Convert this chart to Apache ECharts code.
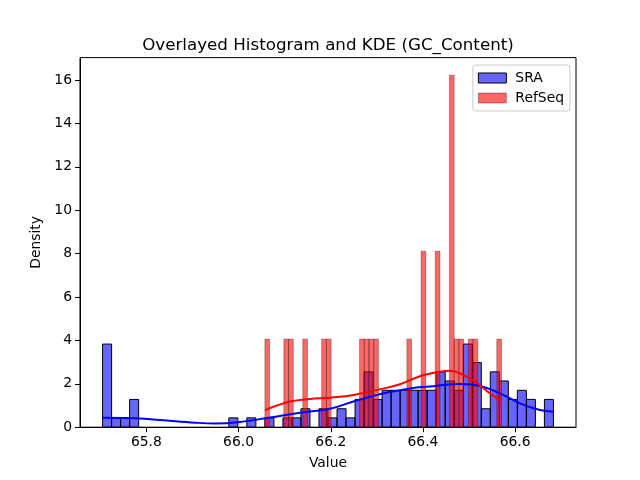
<!DOCTYPE html>
<html lang="en">
<head>
  <meta charset="utf-8" />
  <script src="https://cdn.jsdelivr.net/npm/echarts@6.0.0/dist/echarts.min.js"></script>
</head>
<body style="margin: 0">
  <div id="container" style="width: 640px; height: 480px"></div>
  <script>
    // histogram bins (50 bins each), density values
    var sraStart = 65.705, sraWidth = 0.01956;
    var sraDensity = [
      3.83, 0.43, 0.43, 1.28, 0, 0, 0, 0, 0, 0,
      0, 0, 0, 0, 0.43, 0, 0.43, 0, 0.43, 0,
      0.43, 0.43, 0.85, 0, 0.85, 0.43, 0.85, 0.43, 1.28, 2.55,
      1.28, 1.70, 1.70, 1.70, 1.70, 1.70, 1.70, 2.55, 2.13, 1.70,
      3.83, 2.98, 0.85, 2.55, 2.13, 1.28, 1.70, 1.28, 0, 1.28
    ];
    var refStart = 66.0571, refWidth = 0.010266;
    var refDensity = [
      4.06, 0, 0, 0, 4.06, 4.06, 0, 0, 4.06, 0,
      0, 0, 4.06, 4.06, 0, 0, 0, 0, 0, 0,
      4.06, 4.06, 4.06, 4.06, 0, 0, 0, 0, 0, 0,
      4.06, 0, 0, 8.11, 0, 0, 8.11, 0, 0, 16.22,
      4.06, 4.06, 0, 4.06, 4.06, 0, 0, 0, 0, 4.06
    ];
    // KDE curves
    var sraKdeX = [65.705, 65.7645, 65.8296, 65.9055, 65.9489, 66.0031, 66.0682, 66.1333, 66.1984, 66.2526,
      66.3177, 66.3502, 66.3827, 66.4153, 66.4478, 66.4804, 66.5238, 66.5671, 66.6105, 66.6539, 66.683];
    var sraKdeY = [0.44, 0.42, 0.33, 0.21, 0.17, 0.24, 0.45, 0.67, 0.85, 1.21,
      1.58, 1.70, 1.82, 1.87, 1.96, 1.99, 1.90, 1.56, 1.10, 0.79, 0.71];
    var refKdeX = [66.0573, 66.1116, 66.1550, 66.1984, 66.2526, 66.3177, 66.3502, 66.3936, 66.4370, 66.4587,
      66.4804, 66.5129, 66.5455, 66.5704];
    var refKdeY = [0.79, 1.18, 1.30, 1.36, 1.50, 1.80, 1.98, 2.35, 2.56, 2.60,
      2.48, 2.10, 1.56, 1.22];
    var xTicks = [65.8, 66.0, 66.2, 66.4, 66.6];

    function toBins(start, width, dens) {
      var out = [];
      for (var i = 0; i < dens.length; i++) {
        if (dens[i] > 0) out.push([start + i * width, start + (i + 1) * width, dens[i]]);
      }
      return out;
    }
    function zip(xs, ys) {
      return xs.map(function (x, i) { return [x, ys[i]]; });
    }
    function barRenderer(fill, stroke) {
      return function (params, api) {
        var p0 = api.coord([api.value(0), api.value(2)]);
        var p1 = api.coord([api.value(1), 0]);
        return {
          type: "rect",
          shape: { x: p0[0], y: p0[1], width: p1[0] - p0[0], height: p1[1] - p0[1] },
          style: { fill: fill, stroke: stroke, lineWidth: 1 }
        };
      };
    }

    var font = "DejaVu Sans";
    var chart = echarts.init(document.getElementById("container"), null, { renderer: "canvas" });

    var option = {
      animation: false,
      textStyle: { fontFamily: font },
      title: {
        text: "Overlayed Histogram and KDE (GC_Content)",
        left: 323, textAlign: "center", top: 32,
        textStyle: { fontFamily: font, fontSize: 16.7, fontWeight: "normal", color: "#000" }
      },
      legend: {
        orient: "vertical", right: 70, top: 65,
        padding: [6, 6, 6, 5], itemGap: 6,
        itemWidth: 28, itemHeight: 10,
        backgroundColor: "rgba(255,255,255,0.8)",
        borderColor: "#cccccc", borderWidth: 1, borderRadius: 3,
        textStyle: { fontFamily: font, fontSize: 13.9, color: "#000", padding: [0, 0, 0, 4] },
        data: [
          { name: "SRA", icon: "rect", itemStyle: { color: "rgba(0,0,255,0.6)", borderColor: "#000", borderWidth: 1 } },
          { name: "RefSeq", icon: "rect", itemStyle: { color: "rgba(255,0,0,0.6)", borderColor: "rgba(0,0,0,0.3)", borderWidth: 1 } }
        ]
      },
      grid: { left: 80, right: 64, top: 57.6, bottom: 52.8, show: true, borderColor: "#000", borderWidth: 1, backgroundColor: "transparent" },
      xAxis: {
        type: "value", min: 65.656, max: 66.732,
        name: "Value", nameLocation: "middle", nameGap: 29,
        nameTextStyle: { fontFamily: font, fontSize: 13.9, color: "#000" },
        axisLine: { lineStyle: { color: "#000", width: 1 } },
        axisTick: { show: true, length: 5, customValues: xTicks, lineStyle: { color: "#000" } },
        axisLabel: {
          customValues: xTicks, margin: 8, fontFamily: font, fontSize: 13.9, color: "#000",
          formatter: function (v) { return v.toFixed(1); }
        },
        splitLine: { show: false }
      },
      yAxis: {
        type: "value", min: 0, max: 17.03, interval: 2,
        name: "Density", nameLocation: "middle", nameGap: 31,
        nameTextStyle: { fontFamily: font, fontSize: 13.9, color: "#000" },
        axisLine: { show: true, lineStyle: { color: "#000", width: 1 } },
        axisTick: { show: true, length: 5, lineStyle: { color: "#000" } },
        axisLabel: { margin: 8, fontFamily: font, fontSize: 13.9, color: "#000", showMaxLabel: false },
        splitLine: { show: false }
      },
      series: [
        {
          name: "SRA", type: "custom", z: 1,
          itemStyle: { color: "rgba(0,0,255,0.6)" },
          renderItem: barRenderer("rgba(0,0,255,0.6)", "#000"),
          encode: { x: [0, 1], y: 2 },
          data: toBins(sraStart, sraWidth, sraDensity)
        },
        {
          name: "RefSeq", type: "custom", z: 2,
          itemStyle: { color: "rgba(255,0,0,0.6)" },
          renderItem: barRenderer("rgba(255,0,0,0.6)", "rgba(0,0,0,0.3)"),
          encode: { x: [0, 1], y: 2 },
          data: toBins(refStart, refWidth, refDensity)
        },
        {
          name: "SRA KDE", type: "line", z: 3, smooth: 0.4, symbol: "none",
          lineStyle: { color: "#0000ff", width: 2 },
          data: zip(sraKdeX, sraKdeY)
        },
        {
          name: "RefSeq KDE", type: "line", z: 4, smooth: 0.4, symbol: "none",
          lineStyle: { color: "#ff0000", width: 2 },
          data: zip(refKdeX, refKdeY)
        }
      ]
    };
    chart.setOption(option);
  </script>
</body>
</html>
